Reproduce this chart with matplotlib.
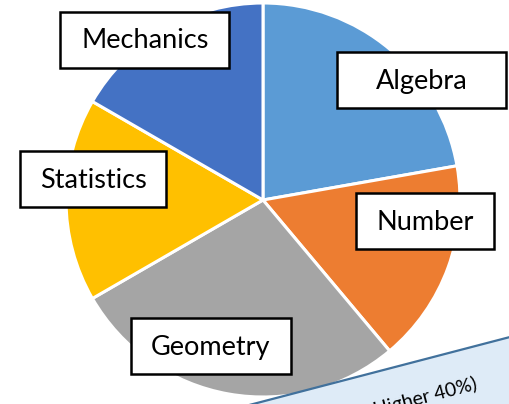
import matplotlib.pyplot as plt
from matplotlib.patches import Rectangle, Polygon

plt.rcParams['font.family'] = ['Lato', 'DejaVu Sans']

# topic weights (clockwise from 12 o'clock)
topics = ['Algebra', 'Number', 'Geometry', 'Statistics', 'Mechanics']
weights = [4, 3, 5, 3, 3]
colours = ['#5B9BD5', '#ED7D31', '#A5A5A5', '#FFC000', '#4472C4']

# label boxes: centre x, centre y (pixels from top-left), width
box_x = [422, 425, 211, 93, 145]
box_y = [80, 221, 346, 179, 40]
box_w = [169, 138, 160, 146, 169]
box_h = 56

W, H = 510, 404
f = plt.figure(figsize=(5.1, 4.04), dpi=100)
ax = f.add_axes([0, 0, 1, 1])

ax.pie(weights, colors=colours, startangle=90, counterclock=False,
       center=(263, H - 200), radius=197,
       wedgeprops=dict(edgecolor='white', linewidth=2.2))

for name, cx, cy, w in zip(topics, box_x, box_y, box_w):
    ax.add_patch(Rectangle((cx - w / 2, H - cy - box_h / 2), w, box_h,
                           facecolor='white', edgecolor='black', linewidth=1.8, zorder=3))
    ax.text(cx, H - cy - 1, name, ha='center', va='center', fontsize=19.5, zorder=4)

# the tilted note box sneaking in at the bottom right
slope = 66 / 253
x0 = 230
y0 = 1 - (257 - x0) * slope
x1 = 560
y1 = 1 + (x1 - 257) * slope
note = Polygon([(x0, y0), (x1, y1), (x1 + 40, y1 - 160), (x0 + 40, y0 - 160)],
               closed=True, facecolor='#DEEBF7', edgecolor='#41719C', linewidth=1.6, zorder=5)
ax.add_patch(note)
ax.text(478, H - 389, 'Higher 40%)', rotation=14.6, rotation_mode='anchor',
        ha='right', va='baseline', fontsize=14, zorder=6)

ax.set_xlim(0, W)
ax.set_ylim(0, H)
ax.set_aspect('auto')
ax.axis('off')

f.savefig('out.png', dpi=100)
